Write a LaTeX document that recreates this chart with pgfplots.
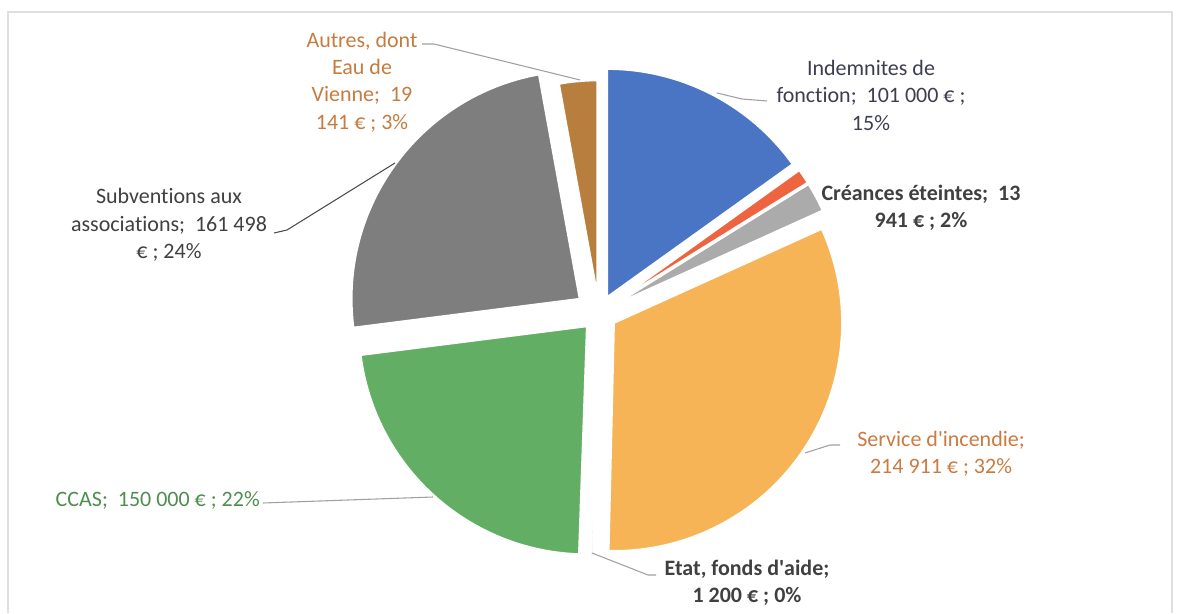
\documentclass[border=0pt]{standalone}
\usepackage{pgfplots}
\pgfplotsset{compat=1.18}
\usepackage{fontspec}
\setmainfont{Carlito}[Ligatures={NoCommon}]

\definecolor{cBlue}{HTML}{4A74C4}
\definecolor{cRed}{HTML}{EE6440}
\definecolor{cLGray}{HTML}{ABABAB}
\definecolor{cOrange}{HTML}{F6B457}
\definecolor{cEtat}{HTML}{E4ECF6}
\definecolor{cGreen}{HTML}{62AE64}
\definecolor{cDGray}{HTML}{7E7E7E}
\definecolor{cBrown}{HTML}{B87E3E}
\definecolor{tDark}{HTML}{404040}
\definecolor{tNavy}{HTML}{3D3D52}
\definecolor{tOrange}{HTML}{CB7A40}
\definecolor{tBrown}{HTML}{C47C3F}
\definecolor{tGreen}{HTML}{4F8D4F}
\definecolor{leader}{HTML}{A0A0A0}

% ---- data (euros), clockwise from 12 o'clock ----
\def\vIndem{101000}    % Indemnites de fonction
\def\vRed{7000}        % (unlabelled slice)
\def\vCreances{13941}  % Creances eteintes
\def\vIncendie{214911} % Service d'incendie
\def\vEtat{1200}       % Etat, fonds d'aide
\def\vCCAS{150000}     % CCAS
\def\vSubv{161498}     % Subventions aux associations
\def\vAutres{19141}    % Autres, dont Eau de Vienne

\edef\total{\fpeval{\vIndem+\vRed+\vCreances+\vIncendie+\vEtat+\vCCAS+\vSubv+\vAutres}}
\edef\aA{90}
\edef\aB{\fpeval{\aA-360*\vIndem/\total}}
\edef\aC{\fpeval{\aB-360*\vRed/\total}}
\edef\aD{\fpeval{\aC-360*\vCreances/\total}}
\edef\aE{\fpeval{\aD-360*\vIncendie/\total}}
\edef\aF{\fpeval{\aE-360*\vEtat/\total}}
\edef\aG{\fpeval{\aF-360*\vCCAS/\total}}
\edef\aH{\fpeval{\aG-360*\vSubv/\total}}
\edef\aI{\fpeval{\aH-360*\vAutres/\total}}

\def\cx{599}\def\cy{313}
% \slice{start}{end}{colour}{explosion px}{radius}
\newcommand{\slice}[5]{%
  \filldraw[fill=#3, draw=white, line width=1.4pt, line join=round]
    (axis cs:{\cx+#4*cos((#1+#2)/2)},{\cy-#4*sin((#1+#2)/2)})
    -- ++(#1:#5) arc[start angle=#1,end angle=#2,radius=#5] -- cycle;}

\begin{document}
\begin{tikzpicture}
\begin{axis}[x=0.75pt, y=0.75pt, xmin=0, xmax=1181, ymin=0, ymax=613,
  y dir=reverse, hide axis, clip=false, enlargelimits=false]
\path (axis cs:0,0) rectangle (axis cs:1181,613);
% faint frame
\addplot[gray!25, line width=0.8pt, no markers] coordinates {(8,613) (8,12) (1172,12) (1172,613)};
% slices
\slice{\aA}{\aB}{cBlue}{18}{171pt}
\slice{\aB}{\aC}{cRed}{18}{171pt}
\slice{\aC}{\aD}{cLGray}{18}{171pt}
\slice{\aD}{\aE}{cOrange}{18}{171pt}
\slice{\aE}{\aF}{cEtat}{18}{171pt}
\slice{\aF}{\aG}{cGreen}{18}{171pt}
\slice{\aG}{\aH}{cDGray}{24}{171pt}
\slice{\aH}{\aI}{cBrown}{18}{161pt}
% leader lines
\addplot[leader, line width=0.8pt, no markers] coordinates {(717,93) (742,99) (767,101)};
\addplot[leader, line width=0.8pt, no markers] coordinates {(805,453) (830,445) (840,445)};
\addplot[leader, line width=0.8pt, no markers] coordinates {(592,553) (648,575) (656,575)};
\addplot[leader, line width=0.8pt, no markers] coordinates {(263,503) (433,497)};
\addplot[black!70, line width=0.8pt, no markers] coordinates {(274,233) (287,230) (395,163)};
\addplot[leader, line width=0.8pt, no markers] coordinates {(422,44) (434,44) (580,80)};
% labels
\tikzset{lbl/.style={align=center, font=\fontsize{16.5}{20.6}\selectfont, inner sep=0pt}}
\node[lbl, text=tNavy] at (axis cs:871,95) {Indemnites de\\fonction;\ \ 101 000 € ;\\15\%};
\node[lbl, text=tDark, font=\fontsize{16.5}{20.6}\selectfont\bfseries] at (axis cs:921,208) {Créances éteintes;\ \ 13\\941 € ; 2\%};
\node[lbl, text=tOrange] at (axis cs:941,454) {Service d\textquotesingle incendie;\\214 911 € ; 32\%};
\node[lbl, text=tDark, font=\fontsize{16.5}{20.6}\selectfont\bfseries] at (axis cs:747,583) {Etat, fonds d\textquotesingle aide;\\1 200 € ; 0\%};
\node[lbl, text=tGreen, anchor=east] at (axis cs:260,500) {CCAS;\ \ 150 000 € ; 22\%};
\node[lbl, text=tDark] at (axis cs:169,225) {Subventions aux\\associations;\ \ 161 498\\€ ; 24\%};
\node[lbl, text=tBrown] at (axis cs:362,82) {Autres, dont\\Eau de\\Vienne;\ \ 19\\141 € ; 3\%};
\end{axis}
\end{tikzpicture}
\end{document}
